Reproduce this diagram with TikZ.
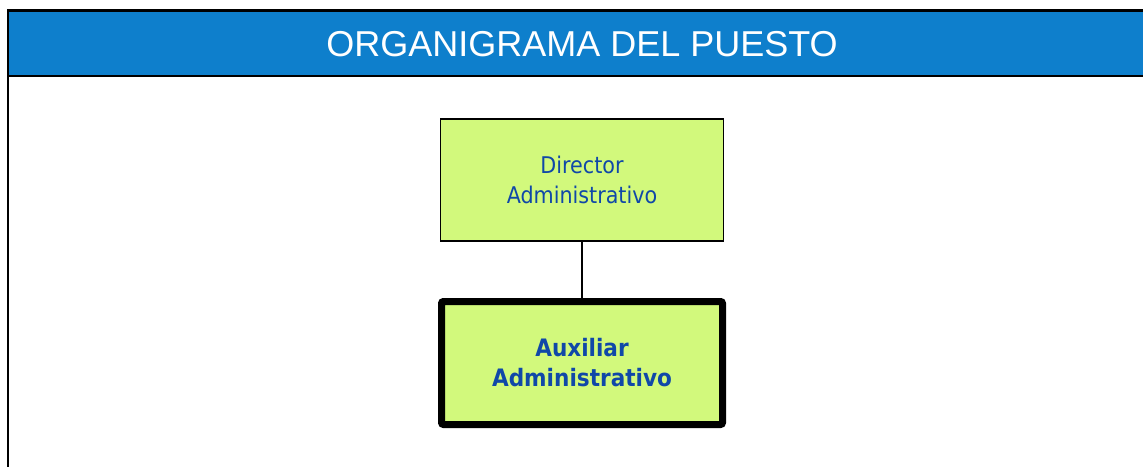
\documentclass[tikz,border=0pt]{standalone}
\usepackage{fontspec}
\setmainfont{Liberation Sans}
\newfontfamily\boxfont{DejaVu Sans Condensed}
\definecolor{hdrblue}{RGB}{14,127,204}
\definecolor{boxgreen}{RGB}{210,249,124}
\definecolor{txtblue}{RGB}{16,72,168}
\begin{document}
\begin{tikzpicture}[x=1pt,y=-1pt,
  hdr/.style={fill=hdrblue,draw=black,line width=2.2pt},
  posbox/.style={fill=boxgreen,draw=black,minimum width=283pt,align=center,text=txtblue,font=\boxfont\fontsize{23}{30}\selectfont},
  link/.style={draw=black,line width=2pt}]
\useasboundingbox (0,0) rectangle (1143,466);
\begin{scope}
\clip (0,0) rectangle (1143,466);
\draw[line width=2.2pt] (8,10.5) -- (8,480);
\draw[hdr] (8,10.5) rectangle (1160,76);
\end{scope}
\node[text=white,font=\fontsize{36}{40}\selectfont] (title) at (582,44) {ORGANIGRAMA DEL PUESTO};
\node[posbox,line width=1.6pt,minimum height=122pt] (dir) at (582,180) {Director\\Administrativo};
\node[posbox,line width=7pt,rounded corners=2pt,minimum width=281pt,minimum height=123pt,font=\boxfont\bfseries\fontsize{24}{30}\selectfont] (aux) at (582,363) {Auxiliar\\Administrativo};
\draw[link] (dir.south) -- (aux.north);
\end{tikzpicture}
\end{document}
